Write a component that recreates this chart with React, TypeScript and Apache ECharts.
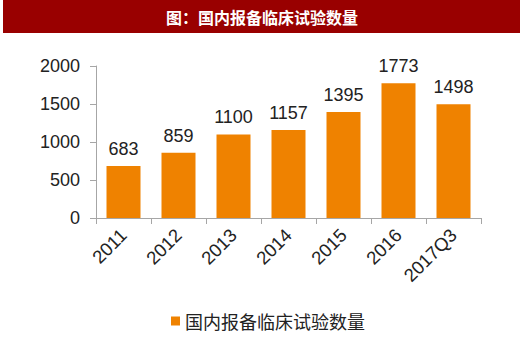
import React, { useEffect, useRef } from "react";
import * as echarts from "echarts";

const titleText = "图：国内报备临床试验数量";
const seriesName = "国内报备临床试验数量";
const categories = ["2011", "2012", "2013", "2014", "2015", "2016", "2017Q3"];
const values = [683, 859, 1100, 1157, 1395, 1773, 1498];
const yTicks = { min: 0, max: 2000, interval: 500 };

export default function App() {
  const ref = useRef<HTMLDivElement>(null);
  useEffect(() => {
    if (!ref.current) return;
    const chart = echarts.init(ref.current, null, { renderer: "svg" });
    const axisColor = "#a6a6a6";
    const numFont = "'Liberation Sans', Arial, Helvetica, sans-serif";
    const cjkFont = "'Noto Sans CJK SC', sans-serif";
    chart.setOption({
      animation: false,
      backgroundColor: "#ffffff",
      graphic: [
        {
          type: "rect",
          shape: { x: 3, y: 0, width: 517, height: 33 },
          style: { fill: "#990000" },
          silent: true,
        },
        {
          type: "text",
          x: 262,
          y: 17,
          style: {
            text: titleText,
            fill: "#ffffff",
            font: `bold 16px ${cjkFont}`,
            align: "center",
            verticalAlign: "middle",
          },
          silent: true,
        },
      ],
      legend: {
        show: true,
        data: [seriesName],
        left: 166,
        top: 307,
        icon: "rect",
        itemWidth: 9,
        itemHeight: 9,
        itemGap: 10,
        textStyle: { fontFamily: cjkFont, fontSize: 18, color: "#222222" },
      },
      grid: { left: 96, right: 39, top: 66, bottom: 134, containLabel: false },
      xAxis: {
        type: "category",
        data: categories,
        axisLine: { show: true, lineStyle: { color: axisColor, width: 1 } },
        axisTick: { show: true, length: 6, alignWithLabel: false, lineStyle: { color: axisColor } },
        axisLabel: {
          rotate: 45,
          margin: 14,
          interval: 0,
          fontFamily: numFont,
          fontSize: 18.5,
          color: "#222222",
        },
      },
      yAxis: {
        type: "value",
        min: yTicks.min,
        max: yTicks.max,
        interval: yTicks.interval,
        splitLine: { show: false },
        axisLine: { show: true, lineStyle: { color: axisColor, width: 1 } },
        axisTick: { show: true, length: 6, lineStyle: { color: axisColor } },
        axisLabel: {
          margin: 16,
          fontFamily: numFont,
          fontSize: 18,
          color: "#222222",
          formatter: (v: number) => String(v),
        },
      },
      series: [
        {
          name: seriesName,
          type: "bar",
          data: values,
          barWidth: 34,
          itemStyle: { color: "#ef8200" },
          label: {
            show: true,
            position: "top",
            distance: 8,
            fontFamily: numFont,
            fontSize: 18,
            color: "#222222",
          },
        },
      ],
    });
    return () => chart.dispose();
  }, []);
  return (
    <div
      ref={ref}
      style={{ position: "fixed", left: 0, top: 0, width: 520, height: 352, background: "#fff" }}
    />
  );
}
